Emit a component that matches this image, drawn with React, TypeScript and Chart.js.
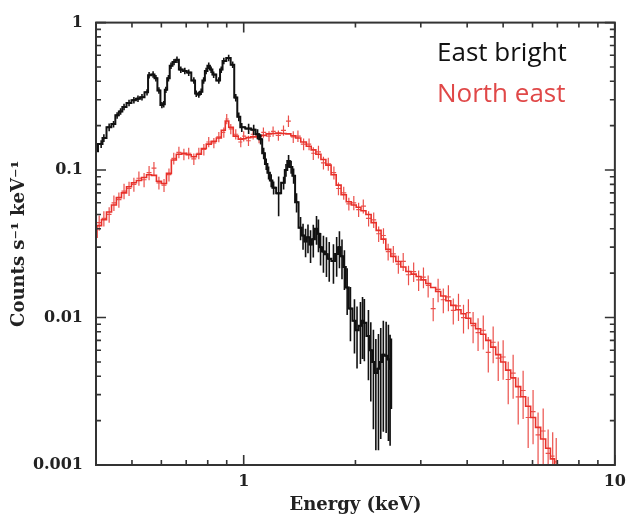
import React, { useEffect, useRef } from "react";
import { Chart, registerables } from "chart.js";

Chart.register(...registerables);

// ---------- data ----------
const eastBrightEnergy = [
  0.397, 0.413, 0.42, 0.434, 0.446, 0.456, 0.466, 0.476, 0.491, 0.506,
  0.519, 0.532, 0.549, 0.556, 0.57, 0.58, 0.591, 0.602, 0.609, 0.617,
  0.627, 0.637, 0.649, 0.661, 0.677, 0.694, 0.711, 0.734, 0.745, 0.757,
  0.768, 0.78, 0.792, 0.805, 0.817, 0.83, 0.857, 0.87, 0.884, 0.911,
  0.934, 0.952, 0.97, 0.988, 1.031, 1.064, 1.09, 1.111, 1.132, 1.15,
  1.167, 1.186, 1.204, 1.242, 1.281, 1.3, 1.321, 1.342, 1.363, 1.388,
  1.423, 1.445, 1.468, 1.49, 1.514, 1.54, 1.571, 1.59, 1.611, 1.64,
  1.671, 1.7, 1.745, 1.78, 1.811, 1.84, 1.868, 1.9, 1.939, 1.988,
  2.02, 2.063, 2.09, 2.114, 2.168, 2.2, 2.236, 2.27, 2.307, 2.34,
  2.378, 2.42, 2.454, 2.48, 2.5,
];
const eastBrightRate = [
  0.134, 0.15, 0.165, 0.195, 0.205, 0.235, 0.25, 0.268, 0.285, 0.298,
  0.305, 0.312, 0.337, 0.44, 0.445, 0.42, 0.347, 0.276, 0.28, 0.35,
  0.42, 0.51, 0.54, 0.56, 0.48, 0.47, 0.458, 0.405, 0.33, 0.325,
  0.34, 0.405, 0.47, 0.51, 0.48, 0.444, 0.405, 0.48, 0.55, 0.576,
  0.518, 0.31, 0.23, 0.195, 0.191, 0.188, 0.175, 0.162, 0.13, 0.11,
  0.096, 0.085, 0.076, 0.0695, 0.082, 0.1, 0.115, 0.105, 0.0916, 0.0606,
  0.0407, 0.036, 0.0328, 0.035, 0.0313, 0.034, 0.04, 0.037, 0.03, 0.028,
  0.0269, 0.025, 0.0242, 0.027, 0.03, 0.026, 0.022, 0.016, 0.0115, 0.0095,
  0.0082, 0.0088, 0.0095, 0.0092, 0.0075, 0.006, 0.005, 0.0042, 0.0045, 0.005,
  0.0056, 0.0055, 0.0052, 0.0045, 0.0048,
];
// fractional 1-sigma errors
const eastBrightErr = [
  0.06, 0.06, 0.06, 0.06, 0.05, 0.05, 0.05, 0.05, 0.05, 0.05,
  0.05, 0.05, 0.05, 0.05, 0.05, 0.05, 0.05, 0.05, 0.05, 0.05,
  0.05, 0.05, 0.05, 0.05, 0.05, 0.05, 0.05, 0.05, 0.05, 0.05,
  0.05, 0.05, 0.05, 0.05, 0.05, 0.05, 0.05, 0.05, 0.05, 0.05,
  0.05, 0.06, 0.07, 0.07, 0.08, 0.08, 0.08, 0.08, 0.09, 0.09,
  0.1, 0.1, 0.1, 0.3, 0.1, 0.1, 0.1, 0.1, 0.12, 0.15,
  0.18, 0.2, 0.22, 0.22, 0.25, 0.25, 0.22, 0.25, 0.25, 0.28,
  0.3, 0.3, 0.3, 0.3, 0.28, 0.3, 0.3, 0.35, 0.4, 0.4,
  0.45, 0.45, 0.45, 0.45, 0.5, 0.55, 0.65, 0.7, 0.72, 0.7,
  0.7, 0.7, 0.72, 0.7, 0.5,
];

const northEastModelEnergy = [
  0.397, 0.408, 0.42, 0.434, 0.447, 0.461, 0.476, 0.491, 0.506, 0.522,
  0.539, 0.556, 0.573, 0.591, 0.61, 0.629, 0.648, 0.669, 0.69, 0.711,
  0.734, 0.757, 0.781, 0.805, 0.831, 0.857, 0.884, 0.9, 0.923, 0.952,
  0.982, 1.0, 1.03, 1.06, 1.1, 1.13, 1.17, 1.2, 1.24, 1.28,
  1.32, 1.36, 1.4, 1.45, 1.5, 1.54, 1.59, 1.64, 1.69, 1.75,
  1.8, 1.86, 1.92, 1.98, 2.04, 2.1, 2.17, 2.24, 2.31, 2.38,
  2.45, 2.53, 2.61, 2.69, 2.78, 2.87, 2.96, 3.05, 3.14, 3.24,
  3.34, 3.45, 3.56, 3.67, 3.79, 3.91, 4.03, 4.15, 4.28, 4.42,
  4.56, 4.7, 4.85, 5.0, 5.16, 5.32, 5.49, 5.66, 5.84, 6.02,
  6.21, 6.41, 6.61, 6.8, 6.95,
];
const northEastModelRate = [
  0.035, 0.042, 0.046, 0.052, 0.058, 0.065, 0.07, 0.077, 0.082, 0.085,
  0.089, 0.093, 0.092, 0.084, 0.081, 0.095, 0.117, 0.128, 0.13, 0.127,
  0.123, 0.128, 0.14, 0.15, 0.157, 0.165, 0.186, 0.215, 0.195, 0.17,
  0.162, 0.163, 0.166, 0.168, 0.17, 0.172, 0.176, 0.177, 0.178, 0.177,
  0.176, 0.171, 0.165, 0.155, 0.145, 0.137, 0.128, 0.118, 0.108, 0.093,
  0.079, 0.068, 0.061, 0.058, 0.056, 0.053, 0.05, 0.044, 0.039, 0.034,
  0.029, 0.026, 0.024, 0.022, 0.0205, 0.0197, 0.019, 0.018, 0.017, 0.016,
  0.015, 0.014, 0.013, 0.0121, 0.0113, 0.0106, 0.0099, 0.0091, 0.0084, 0.0077,
  0.007, 0.0063, 0.0056, 0.005, 0.0044, 0.0039, 0.0034, 0.0029, 0.0025, 0.0021,
  0.0018, 0.0015, 0.0013, 0.0011, 0.001,
];

const northEastDataEnergy = [
  0.397, 0.408, 0.42, 0.434, 0.447, 0.461, 0.476, 0.491, 0.506, 0.522,
  0.539, 0.556, 0.573, 0.591, 0.61, 0.629, 0.648, 0.669, 0.69, 0.711,
  0.734, 0.757, 0.781, 0.805, 0.831, 0.857, 0.884, 0.9, 0.923, 0.952,
  0.982, 1.0, 1.03, 1.06, 1.1, 1.13, 1.17, 1.2, 1.24, 1.28,
  1.32, 1.36, 1.4, 1.45, 1.5, 1.54, 1.59, 1.64, 1.69, 1.75,
  1.8, 1.86, 1.92, 1.98, 2.04, 2.1, 2.17, 2.24, 2.31, 2.38,
  2.45, 2.53, 2.61, 2.69, 2.78, 2.87, 2.96, 3.05, 3.14, 3.24,
  3.34, 3.45, 3.56, 3.67, 3.79, 3.91, 4.03, 4.15, 4.28, 4.42,
  4.56, 4.7, 4.85, 5.0, 5.16, 5.32, 5.49, 5.66, 5.84, 6.02,
  6.21, 6.41, 6.61, 6.8, 6.95,
];
const northEastDataRate = [
  0.033, 0.044, 0.047, 0.05, 0.06, 0.063, 0.072, 0.075, 0.08, 0.088,
  0.086, 0.096, 0.103, 0.082, 0.079, 0.093, 0.12, 0.132, 0.128, 0.13,
  0.119, 0.13, 0.138, 0.155, 0.153, 0.168, 0.18, 0.222, 0.19, 0.175,
  0.155, 0.17, 0.158, 0.175, 0.165, 0.18, 0.17, 0.183, 0.172, 0.186,
  0.215, 0.168, 0.17, 0.15, 0.15, 0.13, 0.133, 0.112, 0.11, 0.096,
  0.075, 0.07, 0.059, 0.06, 0.054, 0.057, 0.047, 0.046, 0.037, 0.036,
  0.028, 0.027, 0.023, 0.024, 0.0195, 0.0205, 0.018, 0.0188, 0.0165, 0.0115,
  0.0155, 0.0132, 0.0138, 0.0112, 0.012, 0.01, 0.0108, 0.0088, 0.0079, 0.0082,
  0.0058, 0.0068, 0.0053, 0.0054, 0.0038, 0.0042, 0.0029, 0.0032, 0.0021, 0.0023,
  0.0016, 0.0017, 0.0012, 0.00115, 0.00105,
];
const northEastDataErr = [
  0.15, 0.12, 0.12, 0.12, 0.12, 0.12, 0.12, 0.11, 0.11, 0.11,
  0.11, 0.11, 0.1, 0.1, 0.1, 0.1, 0.09, 0.09, 0.09, 0.09,
  0.09, 0.09, 0.09, 0.08, 0.08, 0.08, 0.08, 0.08, 0.08, 0.08,
  0.08, 0.08, 0.08, 0.08, 0.08, 0.08, 0.08, 0.08, 0.08, 0.08,
  0.09, 0.09, 0.09, 0.09, 0.09, 0.1, 0.1, 0.1, 0.1, 0.1,
  0.1, 0.1, 0.1, 0.11, 0.11, 0.11, 0.12, 0.12, 0.12, 0.12,
  0.13, 0.13, 0.14, 0.14, 0.15, 0.15, 0.16, 0.16, 0.17, 0.18,
  0.18, 0.19, 0.2, 0.2, 0.21, 0.22, 0.23, 0.24, 0.25, 0.26,
  0.27, 0.28, 0.3, 0.3, 0.32, 0.33, 0.35, 0.36, 0.38, 0.4,
  0.42, 0.42, 0.45, 0.45, 0.45,
];

const xTickValues = [1, 10];
const xTickLabels = ["1", "10"];
const yTickValues = [0.001, 0.01, 0.1, 1];
const yTickLabels = ["0.001", "0.01", "0.1", "1"];
const legendLabels = ["East bright", "North east"];
const xAxisTitle = "Energy (keV)";
const yAxisTitle = "Counts s\u207B\u00B9 keV\u207B\u00B9";

const BLACK = "#111111";
const RED = "#e8302a";
const RED_TEXT = "#e04848";
const AXIS = "#333333";
const SERIF = "'DejaVu Serif', serif";

const toPoints = (xs: number[], ys: number[]) => xs.map((x, i) => ({ x, y: ys[i] }));

const errorBarPlugin = {
  id: "errorBars",
  afterDatasetDraw(chart: any, args: any) {
    const ds = chart.data.datasets[args.index];
    const errs: number[] | undefined = ds.errors;
    if (!errs) return;
    const { ctx, chartArea: a, scales } = chart;
    const xs = scales.x;
    const ys = scales.y;
    const pts = ds.data as { x: number; y: number }[];
    ctx.save();
    ctx.beginPath();
    ctx.rect(a.left, a.top, a.right - a.left, a.bottom - a.top);
    ctx.clip();
    ctx.strokeStyle = ds.errColor;
    ctx.lineWidth = ds.errWidth;
    ctx.beginPath();
    for (let i = 0; i < pts.length; i++) {
      const p = pts[i];
      const prev = i > 0 ? pts[i - 1].x : p.x * p.x / pts[i + 1].x;
      const next = i < pts.length - 1 ? pts[i + 1].x : p.x * p.x / pts[i - 1].x;
      const xl = xs.getPixelForValue(Math.sqrt(prev * p.x));
      const xr = xs.getPixelForValue(Math.sqrt(next * p.x));
      const xc = xs.getPixelForValue(p.x);
      const yc = ys.getPixelForValue(p.y);
      const yt = ys.getPixelForValue(p.y * (1 + errs[i]));
      const yb = ys.getPixelForValue(Math.max(p.y * (1 - errs[i]), 1e-6));
      ctx.moveTo(xl, yc);
      ctx.lineTo(xr, yc);
      ctx.moveTo(xc, yt);
      ctx.lineTo(xc, yb);
    }
    ctx.stroke();
    ctx.restore();
  },
};

const framePlugin = {
  id: "frame",
  afterDraw(chart: any) {
    const { ctx, chartArea: a, scales } = chart;
    const xs = scales.x;
    const ys = scales.y;
    ctx.save();
    ctx.strokeStyle = AXIS;
    ctx.lineWidth = 2;
    ctx.strokeRect(a.left, a.top, a.right - a.left, a.bottom - a.top);
    ctx.lineWidth = 1.6;
    ctx.beginPath();
    const xTick = (v: number, len: number) => {
      const px = xs.getPixelForValue(v);
      if (px < a.left - 0.5 || px > a.right + 0.5) return;
      ctx.moveTo(px, a.bottom);
      ctx.lineTo(px, a.bottom - len);
      ctx.moveTo(px, a.top);
      ctx.lineTo(px, a.top + len);
    };
    const yTick = (v: number, len: number) => {
      const py = ys.getPixelForValue(v);
      if (py < a.top - 0.5 || py > a.bottom + 0.5) return;
      ctx.moveTo(a.left, py);
      ctx.lineTo(a.left + len, py);
      ctx.moveTo(a.right, py);
      ctx.lineTo(a.right - len, py);
    };
    for (const d of [0.1, 1]) {
      for (let m = 2; m <= 9; m++) xTick(m * d, 5);
    }
    xTickValues.forEach((v) => xTick(v, 10));
    for (const d of [0.001, 0.01, 0.1]) {
      for (let m = 2; m <= 9; m++) yTick(m * d, 5);
    }
    yTickValues.forEach((v) => yTick(v, 10));
    ctx.stroke();

    // legend text
    ctx.font = "26px 'Open Sans', sans-serif";
    ctx.textAlign = "left";
    ctx.textBaseline = "alphabetic";
    ctx.fillStyle = BLACK;
    ctx.fillText(legendLabels[0], 437, 61);
    ctx.fillStyle = RED_TEXT;
    ctx.fillText(legendLabels[1], 437, 102);
    ctx.restore();
  },
};

export default function App() {
  const ref = useRef<HTMLCanvasElement | null>(null);

  useEffect(() => {
    if (!ref.current) return;
    const chart = new Chart(ref.current, {
      type: "line",
      data: {
        datasets: [
          {
            label: legendLabels[0],
            data: toPoints(eastBrightEnergy, eastBrightRate),
            borderColor: BLACK,
            borderWidth: 2,
            stepped: "middle",
            pointRadius: 0,
            fill: false,
            errors: eastBrightErr,
            errColor: BLACK,
            errWidth: 1.6,
          } as any,
          {
            label: legendLabels[1] + " model",
            data: toPoints(northEastModelEnergy, northEastModelRate),
            borderColor: RED,
            borderWidth: 1.6,
            stepped: "middle",
            pointRadius: 0,
            fill: false,
          } as any,
          {
            label: legendLabels[1],
            data: toPoints(northEastDataEnergy, northEastDataRate),
            borderColor: RED,
            showLine: false,
            pointRadius: 0,
            errors: northEastDataErr,
            errColor: "rgba(232,48,42,0.85)",
            errWidth: 1.2,
          } as any,
        ],
      },
      options: {
        animation: false,
        responsive: false,
        devicePixelRatio: 1,
        layout: { padding: { top: 14, right: 16, left: 0, bottom: 0 } },
        plugins: { legend: { display: false }, tooltip: { enabled: false } },
        scales: {
          x: {
            type: "logarithmic",
            min: 0.4,
            max: 10,
            grid: { display: false, drawTicks: false },
            border: { display: false },
            afterBuildTicks: (s: any) => {
              s.ticks = xTickValues.map((v) => ({ value: v }));
            },
            afterFit: (s: any) => {
              s.height = 57;
            },
            ticks: {
              autoSkip: false,
              maxRotation: 0,
              padding: 7,
              color: "#222",
              font: { family: SERIF, size: 16, weight: "bold" },
              callback: (v: any) => {
                const i = xTickValues.indexOf(Number(v));
                return i >= 0 ? xTickLabels[i] : "";
              },
            },
            title: {
              display: true,
              text: xAxisTitle,
              color: "#222",
              font: { family: SERIF, size: 18, weight: "bold" },
              padding: { top: 2, bottom: 6 },
            },
          },
          y: {
            type: "logarithmic",
            min: 0.001,
            max: 1,
            grid: { display: false, drawTicks: false },
            border: { display: false },
            afterBuildTicks: (s: any) => {
              s.ticks = yTickValues.map((v) => ({ value: v }));
            },
            afterFit: (s: any) => {
              s.width = 96;
            },
            ticks: {
              autoSkip: false,
              padding: 13,
              color: "#222",
              font: { family: SERIF, size: 16, weight: "bold" },
              callback: (v: any) => {
                const i = yTickValues.indexOf(Number(v));
                return i >= 0 ? yTickLabels[i] : "";
              },
            },
            title: {
              display: true,
              text: yAxisTitle,
              color: "#222",
              font: { family: SERIF, size: 18, weight: "bold" },
              padding: { top: 9, bottom: 0 },
            },
          },
        },
      } as any,
      plugins: [errorBarPlugin, framePlugin],
    });
    return () => chart.destroy();
  }, []);

  return (
    <div style={{ position: "fixed", left: 0, top: 0, width: 633, height: 522, background: "#fff" }}>
      <canvas ref={ref} width={633} height={522} style={{ width: 633, height: 522, display: "block" }} />
    </div>
  );
}
